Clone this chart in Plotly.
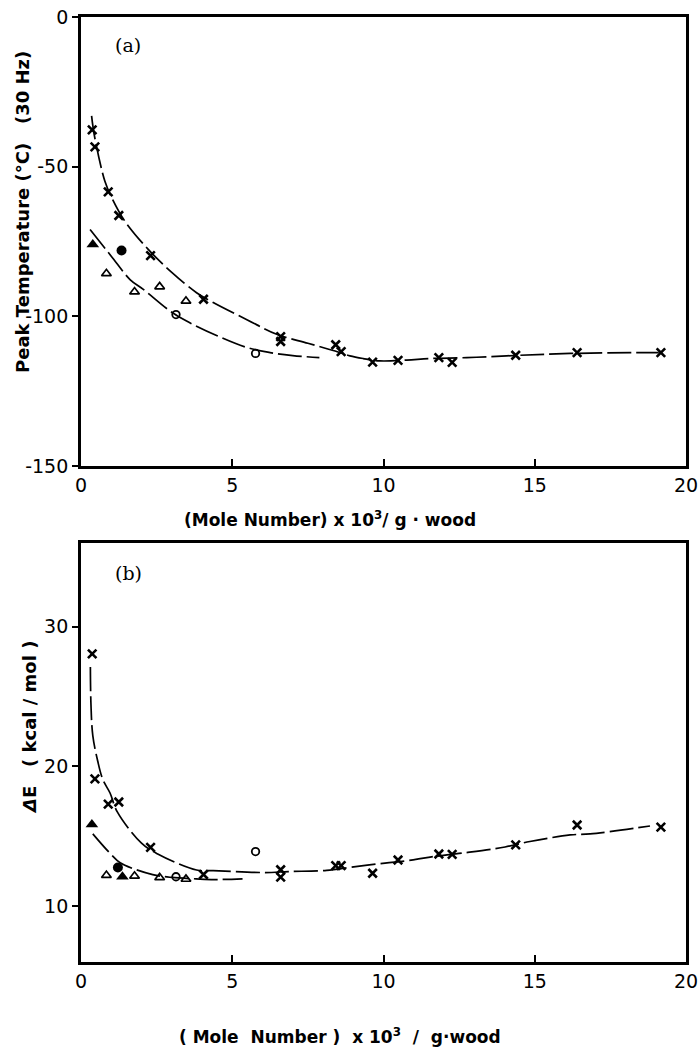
import plotly.graph_objects as go

W, H = 699, 1051

# ---------------- data ----------------
x_cross = [0.37, 0.46, 0.9, 1.25, 2.3, 4.05, 6.6, 6.6, 8.42, 8.6, 9.64,
           10.48, 11.83, 12.27, 14.37, 16.4, 19.17]
a_cross = [-37.7, -43.4, -58.4, -66.3, -79.7, -94.3, -106.8, -108.4, -109.5,
           -111.8, -115.3, -114.7, -113.8, -115.4, -113.0, -112.1, -112.1]
b_cross = [28.05, 19.1, 17.3, 17.45, 14.2, 12.26, 12.6, 12.07, 12.9, 12.9,
           12.35, 13.3, 13.73, 13.7, 14.38, 15.8, 15.65]

x_otri = [0.84, 1.77, 2.6, 3.47]
a_otri = [-85.7, -91.8, -90.1, -94.9]
b_otri = [12.2, 12.15, 12.04, 11.93]

a_ftri_x = [0.39]
a_ftri_y = [-76.0]
b_ftri_x = [0.36, 1.37]
b_ftri_y = [15.83, 12.1]

a_fcirc_x = [1.34]
a_fcirc_y = [-78.0]
b_fcirc_x = [1.22]
b_fcirc_y = [12.76]

x_ocirc = [3.14, 5.77]
a_ocirc = [-99.4, -112.4]
b_ocirc = [12.1, 13.9]

# fitted curves (a)
a_up_x = [0.35, 0.45, 0.79, 1.0, 1.45, 2.23, 3.0, 3.82, 4.37, 5.5, 6.47,
          7.5, 8.4, 8.89, 9.33, 9.88, 10.77, 11.54, 12.75, 14.07, 16.17, 19.1]
a_up_y = [-33.0, -40.0, -54.9, -60.0, -68.2, -77.7, -85.3, -92.1, -95.4,
          -101.2, -106.0, -109.0, -111.6, -113.2, -114.1, -114.9, -114.6,
          -114.1, -113.8, -113.2, -112.4, -112.1]
a_lo_x = [0.3, 1.0, 1.62, 2.06, 2.94, 3.49, 4.5, 5.48, 6.25, 7.0, 7.88]
a_lo_y = [-71.0, -79.9, -87.7, -91.0, -98.2, -101.6, -106.5, -110.4, -112.1,
          -113.1, -113.8]

# fitted curves (b)
b_up_x = [0.31, 0.33, 0.39, 0.55, 0.72, 0.96, 1.2, 2.0, 2.52, 3.82, 4.37,
          6.08, 6.85, 8.12, 8.95, 10.05, 10.77, 11.54, 12.64, 14.02, 14.84,
          16.17, 16.83, 18.81]
b_up_y = [27.1, 24.4, 22.2, 20.4, 19.06, 18.09, 16.74, 14.5, 13.75, 12.58,
          12.54, 12.4, 12.47, 12.56, 12.79, 13.08, 13.24, 13.51, 13.8, 14.23,
          14.62, 15.09, 15.16, 15.73]
b_lo_x = [0.39, 1.2, 1.45, 2.37, 3.0, 3.8, 4.4, 5.34]
b_lo_y = [15.17, 13.26, 12.92, 12.25, 12.05, 11.95, 11.9, 11.95]

x_ticks = [0, 5, 10, 15, 20]
a_yticks = [0, -50, -100, -150]
b_yticks = [10, 20, 30]

# ---------------- figure ----------------
fig = go.Figure()
BLK = "black"
DASH = "24px,5px"

def add_panel(xa, ya, up_x, up_y, lo_x, lo_y, cy, otri, ftx, fty, fcx, fcy, ocy):
    common = dict(xaxis=xa, yaxis=ya, showlegend=False, hoverinfo="skip")
    fig.add_trace(go.Scatter(x=up_x, y=up_y, mode="lines",
                             line=dict(color=BLK, width=1.7, dash=DASH,
                                       shape="spline", smoothing=1.0), **common))
    fig.add_trace(go.Scatter(x=lo_x, y=lo_y, mode="lines",
                             line=dict(color=BLK, width=1.7, dash=DASH,
                                       shape="spline", smoothing=1.0), **common))
    fig.add_trace(go.Scatter(x=x_cross, y=cy, mode="markers",
                             marker=dict(symbol="x-thin", size=8.5,
                                         line=dict(color=BLK, width=2.6)), **common))
    fig.add_trace(go.Scatter(x=x_otri, y=otri, mode="markers",
                             marker=dict(symbol="triangle-up-open", size=8.5, color=BLK,
                                         line=dict(color=BLK, width=1.7)), **common))
    fig.add_trace(go.Scatter(x=ftx, y=fty, mode="markers",
                             marker=dict(symbol="triangle-up", size=11, color=BLK,
                                         line=dict(width=0)), **common))
    fig.add_trace(go.Scatter(x=fcx, y=fcy, mode="markers",
                             marker=dict(symbol="circle", size=10, color=BLK,
                                         line=dict(width=0)), **common))
    fig.add_trace(go.Scatter(x=x_ocirc, y=ocy, mode="markers",
                             marker=dict(symbol="circle-open", size=7.5, color=BLK,
                                         line=dict(color=BLK, width=1.8)), **common))

add_panel("x", "y", a_up_x, a_up_y, a_lo_x, a_lo_y, a_cross, a_otri,
          a_ftri_x, a_ftri_y, a_fcirc_x, a_fcirc_y, a_ocirc)
add_panel("x2", "y2", b_up_x, b_up_y, b_lo_x, b_lo_y, b_cross, b_otri,
          b_ftri_x, b_ftri_y, b_fcirc_x, b_fcirc_y, b_ocirc)

TICKFONT = dict(family="DejaVu Sans", size=19, color=BLK)
xdom = [81 / W, 686 / W]
ya_dom = [1 - 466 / H, 1 - 17 / H]
yb_dom = [1 - 962 / H, 1 - 542.7 / H]

xax = dict(range=[0, 20], domain=xdom, tickvals=x_ticks, ticks="inside",
           ticklen=7, tickwidth=2, tickcolor=BLK, showline=True, linecolor=BLK,
           linewidth=2.8, mirror=True, showgrid=False, zeroline=False,
           tickfont=TICKFONT, automargin=False)
fig.update_layout(
    width=W, height=H, margin=dict(l=0, r=0, t=0, b=0),
    paper_bgcolor="white", plot_bgcolor="white",
    xaxis=dict(xax, anchor="y"),
    xaxis2=dict(xax, anchor="y2"),
    yaxis=dict(range=[-150, 0], domain=ya_dom, tickvals=a_yticks,
               ticktext=["0", "-50", "-100", "-150"], ticks="outside",
               ticklen=6, tickwidth=2, tickcolor=BLK, showline=True,
               linecolor=BLK, linewidth=2.8, mirror=True, showgrid=False,
               zeroline=False, tickfont=TICKFONT, anchor="x", automargin=False),
    yaxis2=dict(range=[6, 36], domain=yb_dom, tickvals=b_yticks, ticks="outside",
                ticklen=6, tickwidth=2, tickcolor=BLK, showline=True,
                linecolor=BLK, linewidth=2.8, mirror=True, showgrid=False,
                zeroline=False, tickfont=TICKFONT, anchor="x2", automargin=False),
)


def ann(text, x, y, size=18, family="DejaVu Sans", angle=0):
    fig.add_annotation(text=text, x=x / W, y=1 - y / H, xref="paper",
                       yref="paper", showarrow=False, textangle=angle,
                       font=dict(family=family, size=size, color=BLK),
                       xanchor="center", yanchor="middle")

ann("(a)", 128, 45, size=19, family="DejaVu Serif")
ann("(b)", 128, 573, size=19, family="DejaVu Serif")
ann("<b>(Mole Number) x 10<sup>3</sup>/ g · wood</b>", 330, 519, size=17)
ann("<b>( Mole  Number )  x 10<sup>3</sup>  /  g·wood</b>", 340, 1036, size=17)
ann("<b>Peak Temperature (°C)   (30 Hz)</b>", 22, 212, size=18, angle=-90)
ann("<b><i>Δ</i>E   ( kcal / mol )</b>", 29, 728, size=18, angle=-90)

fig.write_html("out.html")
